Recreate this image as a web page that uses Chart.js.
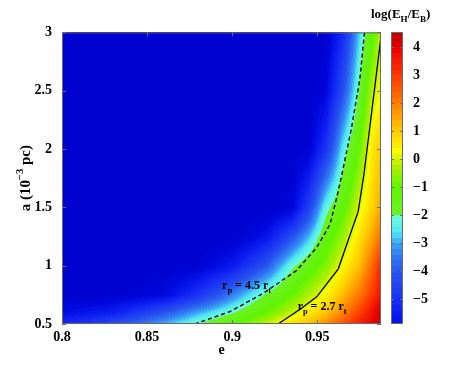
<!DOCTYPE html>
<html lang="en">
<head>
<meta charset="UTF-8">
<title>log(EH/EB) map</title>
<script src="https://cdn.jsdelivr.net/npm/chart.js"></script>
<style>
  html, body { margin: 0; padding: 0; background: #fff; }
  canvas { display: block; }
</style>
</head>
<body>
<canvas id="c" width="457" height="374"></canvas>
<script>
// log(E_H/E_B) on a coarse (e, a) grid
const eGrid = [0.80, 0.83, 0.86, 0.88, 0.90, 0.92, 0.935, 0.945, 0.955, 0.965, 0.975, 0.9825, 0.9875];
const aGrid = [0.5, 0.6, 0.75, 1.0, 1.25, 1.5, 2.0, 2.5, 3.0];
const logRatio = [
  [-5.2, -4.2, -2.9, -2.0, -1.1, -0.1,  0.7,  1.2,  1.8,  2.6,  3.4,  4.0,  4.5], // a = 0.5
  [-6.0, -5.5, -4.1, -3.0, -2.1, -1.0, -0.1,  0.5,  1.1,  1.9,  2.9,  3.7,  4.3], // a = 0.6
  [-6.6, -6.5, -6.1, -4.9, -3.4, -1.9, -1.0, -0.3,  0.4,  1.2,  2.1,  3.0,  3.7], // a = 0.75
  [-6.6, -6.6, -6.6, -6.4, -5.6, -4.0, -2.2, -1.4, -0.7,  0.3,  1.2,  2.3,  3.3], // a = 1
  [-6.6, -6.6, -6.6, -6.6, -6.6, -5.8, -4.2, -2.9, -1.4, -0.5,  0.7,  1.5,  2.2], // a = 1.25
  [-6.6, -6.6, -6.6, -6.6, -6.6, -6.6, -6.3, -4.6, -2.3, -1.2,  0.1,  0.9,  1.5], // a = 1.5
  [-6.6, -6.6, -6.6, -6.6, -6.6, -6.6, -6.6, -6.4, -4.9, -2.5, -0.9,  0.6,  1.0], // a = 2
  [-6.6, -6.6, -6.6, -6.6, -6.6, -6.6, -6.6, -6.6, -6.2, -4.2, -1.9, -0.2,  0.3], // a = 2.5
  [-6.6, -6.6, -6.6, -6.6, -6.6, -6.6, -6.6, -6.6, -6.5, -5.2, -2.7, -1.2, -0.2]  // a = 3
];

// contour r_p = 4.5 r_t (dashed)
const rp45E = [0.878, 0.8987, 0.9182, 0.9379, 0.9497, 0.9575, 0.9614, 0.9644, 0.9702, 0.9751, 0.9778];
const rp45A = [0.5, 0.606, 0.762, 0.959, 1.155, 1.353, 1.578, 1.775, 2.183, 2.605, 3.0];
// contour r_p = 2.7 r_t (solid)
const rp27E = [0.927, 0.9408, 0.9497, 0.9624, 0.9741, 0.9775, 0.9875];
const rp27A = [0.5, 0.635, 0.733, 0.973, 1.465, 1.786, 2.96];

const xTicks = [0.8, 0.85, 0.9, 0.95];
const yTicks = [0.5, 1, 1.5, 2, 2.5, 3];
const cbTicks = [-5, -4, -3, -2, -1, 0, 1, 2, 3, 4];
const cbMin = -5.88, cbMax = 4.53;

// colour map (jet-like, as in the figure)
const stops = [
  [-6.6, 0, 0, 204], [-6.1, 0, 8, 222], [-5.6, 8, 25, 240], [-5.0, 25, 48, 245],
  [-4.0, 40, 85, 240], [-3.4, 50, 125, 245], [-3.0, 60, 165, 245], [-2.6, 80, 232, 245],
  [-2.01, 110, 255, 212],
  [-2.0, 110, 240, 40], [-1.0, 95, 245, 0], [-0.3, 170, 240, 0], [0.3, 250, 250, 0],
  [1.0, 255, 205, 0], [2.0, 255, 125, 0], [3.0, 255, 55, 0], [4.0, 230, 0, 0], [4.5, 190, 0, 0]
];
function colour(v) {
  if (v <= stops[0][0]) return stops[0].slice(1);
  for (let i = 1; i < stops.length; i++) {
    if (v <= stops[i][0]) {
      const p = stops[i - 1], q = stops[i], t = (v - p[0]) / (q[0] - p[0]);
      return [p[1] + t * (q[1] - p[1]), p[2] + t * (q[2] - p[2]), p[3] + t * (q[3] - p[3])];
    }
  }
  return stops[stops.length - 1].slice(1);
}
const STEP = 0.2;
const quantise = v => Math.floor((v + 2) / STEP) * STEP - 2 + STEP / 2;

function locate(arr, v) {
  let i = 0;
  while (i < arr.length - 2 && v > arr[i + 1]) i++;
  const t = Math.min(1, Math.max(0, (v - arr[i]) / (arr[i + 1] - arr[i])));
  return [i, t];
}
function sample(e, a) {
  const [i, s] = locate(eGrid, e);
  const [j, t] = locate(aGrid, a);
  const v00 = logRatio[j][i], v10 = logRatio[j][i + 1];
  const v01 = logRatio[j + 1][i], v11 = logRatio[j + 1][i + 1];
  return (1 - t) * ((1 - s) * v00 + s * v10) + t * ((1 - s) * v01 + s * v11);
}

const FONT = '"Liberation Serif", "Times New Roman", serif';

function richWidth(ctx, parts, size) {
  let w = 0;
  for (const [txt, sh] of parts) {
    ctx.font = 'bold ' + (sh ? size * 0.7 : size) + 'px ' + FONT;
    w += ctx.measureText(txt).width;
  }
  return w;
}
// parts: [text, shift]  shift 1 = subscript, -1 = superscript
function richText(ctx, parts, x, y, size) {
  let cx = x;
  ctx.textAlign = 'left';
  ctx.textBaseline = 'alphabetic';
  for (const [txt, sh] of parts) {
    const fs = sh ? size * 0.7 : size;
    ctx.font = 'bold ' + fs + 'px ' + FONT;
    const dy = sh === 1 ? size * 0.33 : (sh === -1 ? -size * 0.42 : 0);
    ctx.fillText(txt, cx, y + dy);
    cx += ctx.measureText(txt).width;
  }
}

const heatmap = {
  id: 'heatmap',
  beforeDatasetsDraw(chart) {
    const { ctx, chartArea: ca, scales: { x, y } } = chart;
    const w = Math.round(ca.right - ca.left), h = Math.round(ca.bottom - ca.top);
    const off = document.createElement('canvas');
    off.width = w; off.height = h;
    const octx = off.getContext('2d');
    const img = octx.createImageData(w, h);
    for (let j = 0; j < h; j++) {
      const a = y.getValueForPixel(ca.top + j + 0.5);
      for (let i = 0; i < w; i++) {
        const e = x.getValueForPixel(ca.left + i + 0.5);
        const c = colour(quantise(sample(e, a)));
        const k = (j * w + i) * 4;
        img.data[k] = c[0]; img.data[k + 1] = c[1]; img.data[k + 2] = c[2]; img.data[k + 3] = 255;
      }
    }
    octx.putImageData(img, 0, 0);
    ctx.drawImage(off, ca.left, ca.top);
  }
};

const decor = {
  id: 'decor',
  afterDraw(chart) {
    const { ctx, chartArea: ca, scales: { x, y, cb } } = chart;
    ctx.save();
    // box and inward ticks
    ctx.strokeStyle = '#6b6b6b';
    ctx.lineWidth = 1;
    ctx.strokeRect(ca.left + 0.5, ca.top + 0.5, ca.right - ca.left - 1, ca.bottom - ca.top - 1);
    ctx.beginPath();
    xTicks.forEach(v => {
      const px = Math.round(x.getPixelForValue(v)) + 0.5;
      ctx.moveTo(px, ca.bottom); ctx.lineTo(px, ca.bottom - 4);
      ctx.moveTo(px, ca.top); ctx.lineTo(px, ca.top + 4);
    });
    yTicks.forEach(v => {
      const py = Math.round(y.getPixelForValue(v)) + 0.5;
      ctx.moveTo(ca.left, py); ctx.lineTo(ca.left + 4, py);
      ctx.moveTo(ca.right, py); ctx.lineTo(ca.right - 4, py);
    });
    ctx.stroke();

    // colour bar
    const bx0 = ca.right + 10, bx1 = ca.right + 22;
    const top = Math.round(cb.getPixelForValue(cbMax)), bot = Math.round(cb.getPixelForValue(cbMin));
    for (let py = top; py < bot; py++) {
      const c = colour(quantise(cb.getValueForPixel(py + 0.5)));
      ctx.fillStyle = 'rgb(' + c.map(Math.round).join(',') + ')';
      ctx.fillRect(bx0, py, bx1 - bx0, 1);
    }
    ctx.strokeRect(bx0 + 0.5, top + 0.5, bx1 - bx0 - 1, bot - top - 1);
    ctx.beginPath();
    cbTicks.forEach(v => {
      const py = Math.round(cb.getPixelForValue(v)) + 0.5;
      ctx.moveTo(bx0, py); ctx.lineTo(bx0 + 3, py);
      ctx.moveTo(bx1, py); ctx.lineTo(bx1 - 3, py);
    });
    ctx.stroke();

    ctx.fillStyle = '#000';
    // colour bar title
    const cbTitle = [['log(E', 0], ['H', 1], ['/E', 0], ['B', 1], [')', 0]];
    richText(ctx, cbTitle, 371, 18, 13);

    // contour labels, anchored in data space
    const l1 = [['r', 0], ['p', 1], [' = 4.5 r', 0], ['t', 1]];
    richText(ctx, l1, x.getPixelForValue(0.8941), y.getPixelForValue(0.796), 12);
    const l2 = [['r', 0], ['p', 1], [' = 2.7 r', 0], ['t', 1]];
    richText(ctx, l2, x.getPixelForValue(0.9385), y.getPixelForValue(0.623), 12);

    // axis titles
    ctx.font = 'bold 14px ' + FONT;
    ctx.textAlign = 'center';
    ctx.textBaseline = 'alphabetic';
    ctx.fillText('e', (ca.left + ca.right) / 2, 354);

    const yt = [['a (10', 0], ['\u22123', -1], [' pc)', 0]];
    const wy = richWidth(ctx, yt, 15);
    ctx.translate(29.5, (ca.top + ca.bottom) / 2);
    ctx.rotate(-Math.PI / 2);
    richText(ctx, yt, -wy / 2, 0, 15);
    ctx.restore();
  }
};

const tickFont = { family: FONT, size: 14, weight: 'bold' };

new Chart(document.getElementById('c'), {
  type: 'scatter',
  data: {
    datasets: [
      {
        label: 'r_p = 4.5 r_t',
        data: rp45E.map((e, i) => ({ x: e, y: rp45A[i] })),
        showLine: true, borderColor: '#000', borderWidth: 1.4, borderDash: [4, 3],
        pointRadius: 0, fill: false, tension: 0
      },
      {
        label: 'r_p = 2.7 r_t',
        data: rp27E.map((e, i) => ({ x: e, y: rp27A[i] })),
        showLine: true, borderColor: '#000', borderWidth: 1.3,
        pointRadius: 0, fill: false, tension: 0
      }
    ]
  },
  options: {
    responsive: false,
    animation: false,
    devicePixelRatio: 1,
    layout: { padding: { top: 28, left: 0, right: 0, bottom: 0 } },
    plugins: { legend: { display: false }, tooltip: { enabled: false } },
    scales: {
      x: {
        type: 'linear', min: 0.8, max: 0.9875,
        grid: { display: false }, border: { display: false },
        afterBuildTicks: s => { s.ticks = xTicks.map(v => ({ value: v })); },
        afterFit: s => { s.height = 50; },
        ticks: { font: tickFont, color: '#000', padding: -3, maxRotation: 0, autoSkip: false, callback: v => String(v) }
      },
      y: {
        type: 'linear', min: 0.5, max: 3,
        grid: { display: false }, border: { display: false },
        afterBuildTicks: s => { s.ticks = yTicks.map(v => ({ value: v })); },
        afterFit: s => { s.width = 62; },
        ticks: { font: tickFont, color: '#000', padding: 2, autoSkip: false, callback: v => String(v) }
      },
      cb: {
        type: 'linear', position: 'right', min: cbMin, max: cbMax,
        grid: { display: false }, border: { display: false },
        afterBuildTicks: s => { s.ticks = cbTicks.map(v => ({ value: v })); },
        afterFit: s => { s.width = 76; },
        ticks: { font: tickFont, color: '#000', padding: 24, autoSkip: false,
                 callback: v => v < 0 ? '\u2212' + (-v) : String(v) }
      }
    }
  },
  plugins: [heatmap, decor]
});
</script>
</body>
</html>
